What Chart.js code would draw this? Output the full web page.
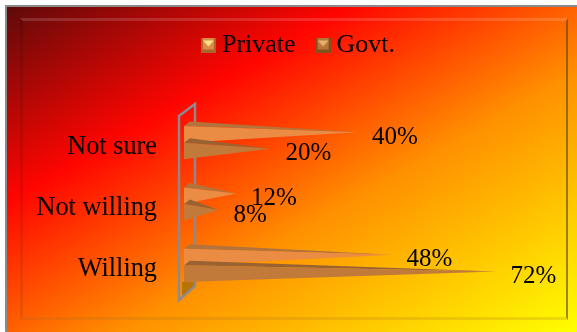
<!DOCTYPE html>
<html lang="en">
<head>
    <meta charset="UTF-8">
    <title>Willingness by sector</title>
    <script src="https://cdn.jsdelivr.net/npm/chart.js"></script>
    <style>
        html, body {
            margin: 0;
            padding: 0;
            background: #fff;
        }
        #panel {
            position: absolute;
            left: 5px;
            top: 5px;
            width: 572px;
            height: 327px;
            box-sizing: border-box;
            background: linear-gradient(to bottom right, #5f0a0a 0%, #ff0500 30%, #ff9000 60%, #ffff00 100%);
            border-left: 2px solid #8a8a8a;
            border-top: 2px solid #8a8a8a;
        }
        #bevel {
            position: absolute;
            left: 20px;
            top: 18px;
            width: 548px;
            height: 302px;
            box-sizing: border-box;
            border-top: 3px solid rgba(255, 255, 255, 0.15);
            border-left: 3px solid rgba(0, 0, 0, 0.08);
            border-right: 2px solid rgba(90, 70, 0, 0.6);
            border-bottom: 3px solid rgba(160, 110, 40, 0.2);
        }
        #wrap {
            position: absolute;
            left: 0;
            top: 0;
            width: 577px;
            height: 332px;
        }
    </style>
</head>
<body>
    <div id="panel"></div>
    <div id="bevel"></div>
    <div id="wrap"><canvas id="surveyChart" width="577" height="332"></canvas></div>

    <script>
        const categories = ['Not sure', 'Not willing', 'Willing'];
        const privateValues = [40, 12, 48];
        const govtValues = [20, 8, 72];
        const seriesNames = ['Private', 'Govt.'];
        const frontColors = ['#ea8c44', '#c27a3a'];
        const topColors = ['#b4733a', '#9a6230'];

        // small bevelled square used as the legend key
        function makeKey(face, light, dark) {
            const c = document.createElement('canvas');
            c.width = 15;
            c.height = 15;
            const g = c.getContext('2d');
            g.fillStyle = face;
            g.fillRect(0, 0, 15, 15);
            g.fillStyle = dark;
            g.fillRect(0, 12, 15, 3);
            g.fillRect(0, 0, 2, 15);
            g.fillRect(13, 0, 2, 15);
            g.fillStyle = light;
            g.beginPath();
            g.moveTo(2, 3);
            g.lineTo(13, 3);
            g.lineTo(7.5, 9);
            g.closePath();
            g.fill();
            return c;
        }

        // left wall of the 3D box behind the bars
        const boxWall = {
            id: 'boxWall',
            beforeDatasetsDraw(chart) {
                const { ctx, chartArea } = chart;
                const x1 = chartArea.left - 5;
                const x2 = x1 + 16;
                const top = chartArea.top;
                const bottom = chartArea.bottom;
                ctx.save();
                ctx.fillStyle = '#b87400';
                ctx.beginPath();
                ctx.moveTo(x1 + 3, bottom - 18);
                ctx.lineTo(x2, bottom - 18);
                ctx.lineTo(x2, bottom - 14);
                ctx.lineTo(x1 + 3, bottom - 4);
                ctx.closePath();
                ctx.fill();
                ctx.strokeStyle = '#8a8a90';
                ctx.lineWidth = 2.4;
                ctx.beginPath();
                ctx.moveTo(x1, top);
                ctx.lineTo(x2, top - 12);
                ctx.lineTo(x2, bottom - 14);
                ctx.lineTo(x1, bottom);
                ctx.closePath();
                ctx.stroke();
                ctx.restore();
            }
        };

        // each bar is drawn as a lying pyramid with its point on the value
        const pyramids = {
            id: 'pyramids',
            afterDatasetsDraw(chart) {
                const { ctx } = chart;
                const base = chart.scales.x.getPixelForValue(0);
                ctx.save();
                chart.data.datasets.forEach((ds, i) => {
                    chart.getDatasetMeta(i).data.forEach((bar, j) => {
                        const tip = bar.x;
                        const h = bar.height;
                        const top = bar.y - h / 2 - 4;
                        const bottom = top + h;
                        const tipY = top + h / 2 - 2.2;

                        ctx.fillStyle = topColors[i];
                        ctx.beginPath();
                        ctx.moveTo(base, top);
                        ctx.lineTo(base + 6, top - 4.5);
                        ctx.lineTo(tip, tipY);
                        ctx.closePath();
                        ctx.fill();

                        ctx.fillStyle = frontColors[i];
                        ctx.beginPath();
                        ctx.moveTo(base, top);
                        ctx.lineTo(base, bottom);
                        ctx.lineTo(tip, tipY);
                        ctx.closePath();
                        ctx.fill();

                        ctx.fillStyle = '#000';
                        ctx.font = '25px "Liberation Serif"';
                        ctx.textAlign = 'left';
                        ctx.textBaseline = 'middle';
                        ctx.fillText(ds.data[j] + '%', tip + 15, tipY + 5);
                    });
                });
                ctx.restore();
            }
        };

        // the legend sits centred over the plot, not over the whole canvas
        const legendShift = {
            id: 'legendShift',
            afterLayout(chart) {
                chart.legend.left += 73;
            }
        };

        new Chart(document.getElementById('surveyChart'), {
            type: 'bar',
            data: {
                labels: categories,
                datasets: [
                    {
                        label: seriesNames[0],
                        data: privateValues,
                        backgroundColor: 'rgba(0,0,0,0)',
                        pointStyle: makeKey('#dc8a45', '#ffe08a', '#a9662c')
                    },
                    {
                        label: seriesNames[1],
                        data: govtValues,
                        backgroundColor: 'rgba(0,0,0,0)',
                        pointStyle: makeKey('#b8753a', '#e8b070', '#80501f')
                    }
                ]
            },
            options: {
                indexAxis: 'y',
                responsive: false,
                animation: false,
                layout: { padding: { left: 0, right: 47, top: 5, bottom: 32 } },
                datasets: { bar: { barPercentage: 1, categoryPercentage: 0.54 } },
                scales: {
                    x: {
                        position: 'top',
                        min: 0,
                        max: 80,
                        grid: { display: false },
                        border: { display: false },
                        ticks: { display: false },
                        afterFit(scale) { scale.height = 48; }
                    },
                    y: {
                        grid: { display: false, drawTicks: false },
                        border: { display: false },
                        ticks: {
                            color: '#000',
                            padding: 27,
                            font: { family: '"Liberation Serif"', size: 26.3 }
                        },
                        afterFit(scale) {
                            scale.width = 184;
                            // tick padding would otherwise be reserved above and below the plot
                            scale.paddingTop = 0;
                            scale.paddingBottom = 0;
                        }
                    }
                },
                plugins: {
                    tooltip: { enabled: false },
                    legend: {
                        position: 'top',
                        labels: {
                            usePointStyle: true,
                            boxWidth: 1,
                            padding: 27,
                            color: '#000',
                            font: { family: '"Liberation Serif"', size: 26 }
                        }
                    }
                }
            },
            plugins: [boxWall, pyramids, legendShift]
        });
    </script>
</body>
</html>
